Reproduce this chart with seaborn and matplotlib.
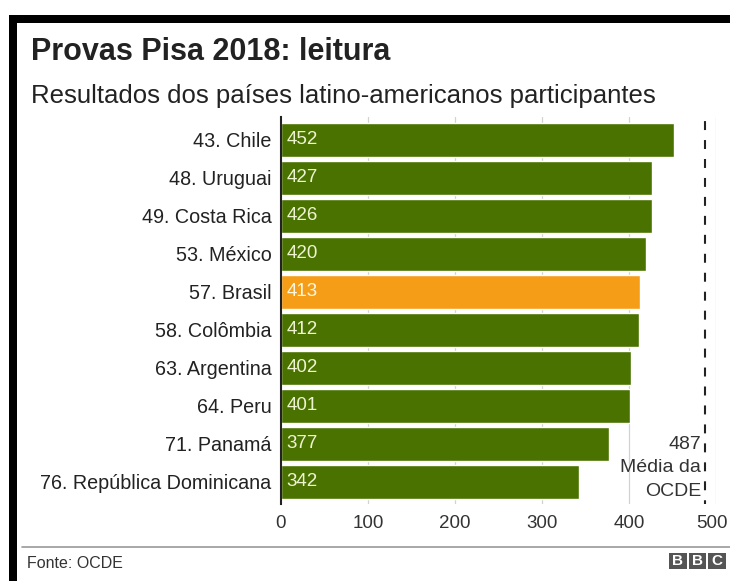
import matplotlib
matplotlib.use("Agg")
import matplotlib.pyplot as plt
import matplotlib.transforms as mtransforms
import seaborn as sns
import pandas as pd
from matplotlib.patches import Rectangle

countries = ["43. Chile", "48. Uruguai", "49. Costa Rica", "53. México", "57. Brasil",
             "58. Colômbia", "63. Argentina", "64. Peru", "71. Panamá", "76. República Dominicana"]
scores = [452, 427, 426, 420, 413, 412, 402, 401, 377, 342]
highlight = "57. Brasil"
oecd_mean = 487
xticks = [0, 100, 200, 300, 400, 500]

GREEN = "#4a7200"
ORANGE = "#f59d16"

sns.set_theme(style="white")
plt.rcParams["font.family"] = ["Liberation Sans", "DejaVu Sans"]

W, H = 730, 581
fig = plt.figure(figsize=(W / 100, H / 100), dpi=100)
fig.patch.set_facecolor("white")

def fx(px):
    return px / W

def fy(py):
    return 1 - py / H

ax_left, ax_right, ax_top, ax_bottom = 281, 716, 117, 504
ax = fig.add_axes([fx(ax_left), fy(ax_bottom), fx(ax_right - ax_left), (ax_bottom - ax_top) / H])

df = pd.DataFrame({"country": countries, "score": scores})
palette = {c: (ORANGE if c == highlight else GREEN) for c in countries}
sns.barplot(data=df, x="score", y="country", hue="country", palette=palette,
            legend=False, width=0.89, saturation=1, ax=ax, zorder=3)

ax.set_xlim(0, 500)
ax.set_ylim(9.58, -0.6)
ax.set_xticks(xticks)
ax.set_xticklabels([str(t) for t in xticks], fontsize=13.5, color="#333333")
ax.tick_params(axis="x", length=0, pad=8)
ax.tick_params(axis="y", length=0, pad=7, labelsize=14.2, labelcolor="#222222")
ax.set_xlabel("")
ax.set_ylabel("")
# nudge the last tick label left so it stays inside the figure
last = ax.get_xticklabels()[-1]
last.set_transform(last.get_transform() +
                   mtransforms.ScaledTranslation(-4 / 100, 0, fig.dpi_scale_trans))
for t in xticks[1:]:
    ax.axvline(t, color="#d2d2d2", lw=0.9, zorder=1)
for s in ["top", "right", "bottom"]:
    ax.spines[s].set_visible(False)
ax.spines["left"].set_color("#222222")
ax.spines["left"].set_linewidth(1.5)
ax.spines["left"].set_zorder(5)

# value labels inside bars
for i, (c, v) in enumerate(zip(countries, scores)):
    col = "#fff6e0" if c == highlight else "#eef4d2"
    ax.text(6, i, str(v), va="center", ha="left", fontsize=13.5, color=col, zorder=6)

# OECD mean line
ax.axvline(oecd_mean, color="#222222", lw=1.5, ls=(2.5, (4.3, 4.8)), zorder=4)
ax.text(oecd_mean - 4, 8.62, f"{oecd_mean}\nMédia da\nOCDE", ha="right", va="center",
        fontsize=14, color="#333333", linespacing=1.5, zorder=6)

# titles
fig.text(fx(31), fy(60), "Provas Pisa 2018: leitura", fontsize=22, fontweight="bold",
         color="#222222", va="baseline", ha="left")
fig.text(fx(31), fy(103), "Resultados dos países latino-americanos participantes", fontsize=18.5,
         color="#222222", va="baseline", ha="left")

# footer
fig.add_artist(plt.Line2D([fx(22), fx(730)], [fy(547), fy(547)], color="#999999", lw=1.2))
fig.text(fx(27), fy(564), "Fonte: OCDE", fontsize=11.5, color="#333333", va="center", ha="left")
for k, letter in enumerate("BBC"):
    x0 = 669 + k * 19.5
    fig.add_artist(Rectangle((fx(x0), fy(569)), fx(17.5), 16 / H, transform=fig.transFigure,
                             facecolor="#555555", edgecolor="none"))
    fig.text(fx(x0 + 8.75), fy(561), letter, fontsize=11, fontweight="bold", color="white",
             ha="center", va="center")

# black frame (top & left)
fig.add_artist(Rectangle((fx(9), fy(23)), fx(730 - 9), 8 / H, transform=fig.transFigure,
                         facecolor="black", edgecolor="none"))
fig.add_artist(Rectangle((fx(9), 0), fx(8), fy(15), transform=fig.transFigure,
                         facecolor="black", edgecolor="none"))

fig.savefig("out.png", dpi=100, facecolor="white")
